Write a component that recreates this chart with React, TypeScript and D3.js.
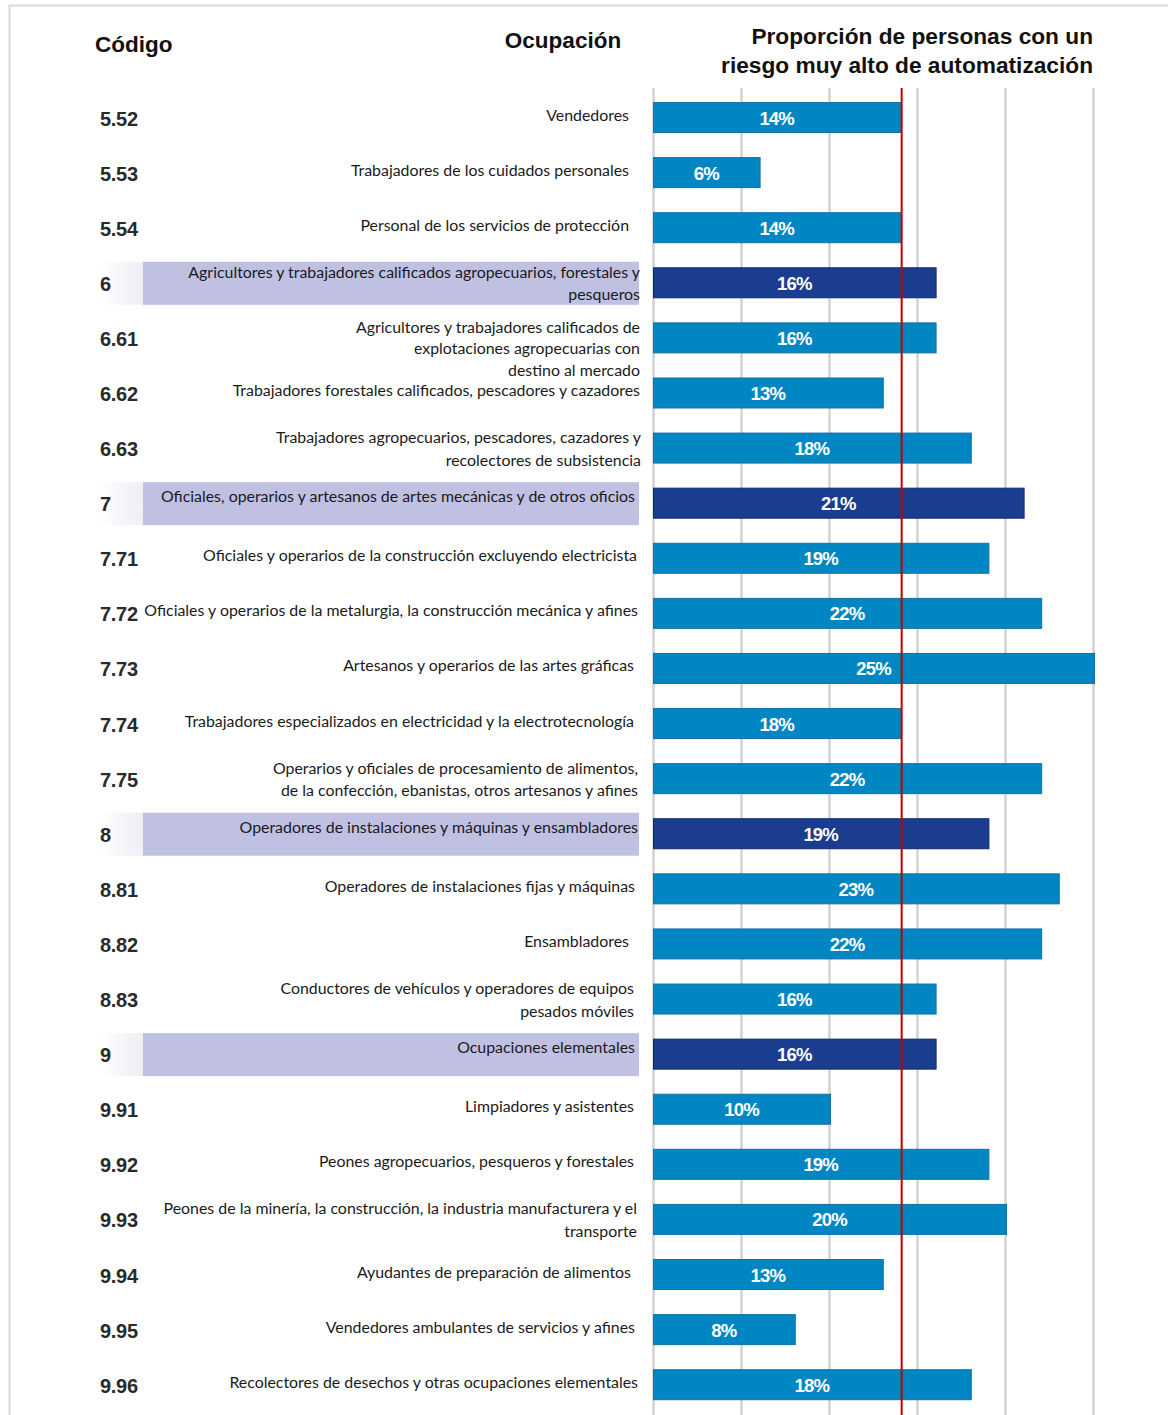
import React from "react";
import * as d3 from "d3";

const codes = ["5.52","5.53","5.54","6","6.61","6.62","6.63","7","7.71","7.72","7.73","7.74","7.75","8","8.81","8.82","8.83","9","9.91","9.92","9.93","9.94","9.95","9.96"];

const occupations: string[][] = [
  ["Vendedores"],
  ["Trabajadores de los cuidados personales"],
  ["Personal de los servicios de protección"],
  ["Agricultores y trabajadores calificados agropecuarios, forestales y", "pesqueros"],
  ["Agricultores y trabajadores calificados de", "explotaciones agropecuarias con", "destino al mercado"],
  ["Trabajadores forestales calificados, pescadores y cazadores"],
  ["Trabajadores agropecuarios, pescadores, cazadores y", "recolectores de subsistencia"],
  ["Oficiales, operarios y artesanos de artes mecánicas y de otros oficios"],
  ["Oficiales y operarios de la construcción excluyendo electricista"],
  ["Oficiales y operarios de la metalurgia, la construcción mecánica y afines"],
  ["Artesanos y operarios de las artes gráficas"],
  ["Trabajadores especializados en electricidad y la electrotecnología"],
  ["Operarios y oficiales de procesamiento de alimentos,", "de la confección, ebanistas, otros artesanos y afines"],
  ["Operadores de instalaciones y máquinas y ensambladores"],
  ["Operadores de instalaciones fijas y máquinas"],
  ["Ensambladores"],
  ["Conductores de vehículos y operadores de equipos", "pesados móviles"],
  ["Ocupaciones elementales"],
  ["Limpiadores y asistentes"],
  ["Peones agropecuarios, pesqueros y forestales"],
  ["Peones de la minería, la construcción, la industria manufacturera y el", "transporte"],
  ["Ayudantes de preparación de alimentos"],
  ["Vendedores ambulantes de servicios y afines"],
  ["Recolectores de desechos y otras ocupaciones elementales"],
];

// bar lengths as drawn (percent)
const values = [14, 6, 14, 16, 16, 13, 18, 21, 19, 22, 25, 14, 22, 19, 23, 22, 16, 16, 10, 19, 20, 13, 8, 18];
// printed labels on bars
const barLabels = ["14%","6%","14%","16%","16%","13%","18%","21%","19%","22%","25%","18%","22%","19%","23%","22%","16%","16%","10%","19%","20%","13%","8%","18%"];

const gridTicks = [0, 5, 10, 15, 20, 25];
const referenceValue = 14.1;

const headerCode = "Código";
const headerOcc = "Ocupación";
const titleLines = ["Proporción de personas con un", "riesgo muy alto de automatización"];

// layout: right inset of the occupation label from x=641
const labelInset = [12, 12, 12, 1, 1, 1, 0, 6, 4, 3, 7, 7, 3, 3, 6, 12, 7, 6, 7, 7, 4, 10, 6, 3];

const W = 1168;
const H = 1415;

export default function App() {
  const x = d3.scaleLinear().domain([0, 25]).range([653.5, 1093.5]);
  const y = d3.scalePoint<string>().domain(codes).range([117.5, 1384.7]);
  const barH = 30;
  const isGroup = (c: string) => !c.includes(".");
  const codeFont = "'Liberation Sans', Arial, sans-serif";
  const occFont = "Lato, 'Noto Sans', sans-serif";

  return (
    <svg width={W} height={H} style={{ position: "absolute", left: 0, top: 0, background: "#fff" }}>
      <defs>
        <linearGradient id="fadeL" x1="0" x2="1" y1="0" y2="0">
          <stop offset="0" stopColor="#ffffff" />
          <stop offset="1" stopColor="#eeeef4" />
        </linearGradient>
      </defs>
      {/* frame */}
      <path d={`M9.5,${H} V5.5 H${W}`} fill="none" stroke="#d9d9d9" strokeWidth={2} />

      {/* headers */}
      <text x={95} y={52} fontFamily={codeFont} fontWeight="bold" fontSize={22.5} fill="#111">{headerCode}</text>
      <text x={563} y={48} textAnchor="middle" fontFamily={codeFont} fontWeight="bold" fontSize={22.5} fill="#111">{headerOcc}</text>
      {titleLines.map((t, i) => (
        <text key={i} x={1093} y={44 + i * 29} textAnchor="end" fontFamily={codeFont} fontWeight="bold" fontSize={22.7} fill="#111">{t}</text>
      ))}

      {/* grid lines */}
      {gridTicks.map((t) => (
        <line key={t} x1={x(t)} x2={x(t)} y1={88} y2={H} stroke="#d2d2d2" strokeWidth={2.5} />
      ))}

      {/* group bands */}
      {codes.map((c) =>
        isGroup(c) ? (
          <g key={"band" + c}>
            <rect x={100} y={y(c)! - 21} width={43} height={43} fill="url(#fadeL)" />
            <rect x={143} y={y(c)! - 21} width={496} height={43} fill="#c0c0e3" />
          </g>
        ) : null
      )}

      {/* bars */}
      {codes.map((c, i) => (
        <g key={"bar" + c}>
          <rect
            x={x(0)}
            y={y(c)! - barH / 2}
            width={x(values[i]) - x(0) + 1}
            height={barH}
            fill={isGroup(c) ? "#1b3d8f" : "#0087c3"}
            stroke={isGroup(c) ? "#0e2a70" : "#1670a6"}
            strokeWidth={1}
          />
          <text
            x={(x(0) + x(values[i])) / 2}
            y={y(c)! + 7}
            textAnchor="middle"
            fontFamily={codeFont}
            fontWeight="bold"
            fontSize={18.5}
            fill="#fff"
            letterSpacing={-0.8}
          >
            {barLabels[i]}
          </text>
        </g>
      ))}

      {/* reference line */}
      <line x1={x(referenceValue)} x2={x(referenceValue)} y1={88} y2={H} stroke="#c00000" strokeWidth={2} />

      {/* code labels */}
      {codes.map((c) => (
        <text key={"code" + c} x={100} y={y(c)! + 8} fontFamily={codeFont} fontWeight="bold" fontSize={20} fill="#2a2a2a" letterSpacing={-0.3}>
          {c}
        </text>
      ))}

      {/* occupation labels */}
      {codes.map((c, i) => {
        const lines = occupations[i];
        const first = lines.length > 1 ? y(c)! - 10 : isGroup(c) ? y(c)! - 6 : y(c)! - 2;
        const lh = lines.length > 2 ? 21.5 : 22.5;
        return (
          <text key={"occ" + c} x={641 - labelInset[i]} textAnchor="end" fontFamily={occFont} fontSize={15.9} fill="#1a1a1a">
            {lines.map((l, j) => (
              <tspan key={j} x={641 - labelInset[i]} y={first + j * lh + 5}>{l}</tspan>
            ))}
          </text>
        );
      })}
    </svg>
  );
}
